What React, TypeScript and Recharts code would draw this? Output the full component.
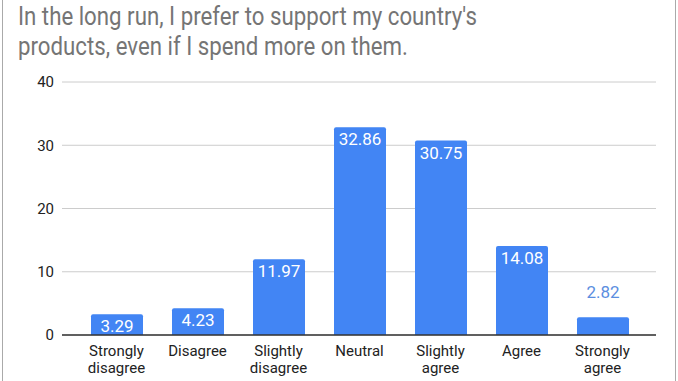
import React from 'react'
import { BarChart, Bar, XAxis, YAxis, CartesianGrid, LabelList } from 'recharts'

const categories = [
  'Strongly disagree',
  'Disagree',
  'Slightly disagree',
  'Neutral',
  'Slightly agree',
  'Agree',
  'Strongly agree',
]
const values = [3.29, 4.23, 11.97, 32.86, 30.75, 14.08, 2.82]
const yTicks = [0, 10, 20, 30, 40]

const data = categories.map((name, i) => ({ name, value: values[i] }))

const FONT = 'Roboto, Arial, sans-serif'

function CategoryTick(props: any) {
  const { x, y, payload } = props
  const words: string[] = payload.value.split(' ')
  return (
    <text x={x} y={y} textAnchor="middle" fontFamily={FONT} fontSize={15} fill="#222">
      {words.map((w, i) => (
        <tspan key={i} x={x} dy={i === 0 ? 13 : 17}>
          {w}
        </tspan>
      ))}
    </text>
  )
}

function ValueLabel(props: any) {
  const { x, y, width, height, value } = props
  const cx = x + width / 2
  if (height < 19) {
    return (
      <text x={cx} y={y - 25} dy={6} textAnchor="middle" fontFamily={FONT} fontSize={17} fill="#5b8ee0">
        {value}
      </text>
    )
  }
  return (
    <text x={cx} y={y + 12} dy={6} textAnchor="middle" fontFamily={FONT} fontSize={17} fill="#fff">
      {value}
    </text>
  )
}

export default function App() {
  return (
    <div
      style={{
        position: 'fixed',
        left: 0,
        top: 0,
        width: 678,
        height: 381,
        background: '#fff',
        fontFamily: FONT,
      }}
    >
      <div style={{ position: 'absolute', left: 2, top: 0, width: 1, height: 381, background: '#aaa' }} />
      <div style={{ position: 'absolute', left: 675, top: 0, width: 1, height: 381, background: '#aaa' }} />
      <div
        style={{
          position: 'absolute',
          left: 18,
          top: 2,
          fontSize: 25,
          lineHeight: '30px',
          color: '#757575',
          whiteSpace: 'nowrap',
          transform: 'scaleX(0.89)',
          transformOrigin: 'left top',
        }}
      >
        In the long run, I prefer to support my country's
        <br />
        products, even if I spend more on them.
      </div>
      <BarChart
        width={678}
        height={381}
        data={data}
        margin={{ top: 82, right: 22, bottom: 0, left: 22 }}
        style={{ position: 'absolute', left: 0, top: 0 }}
      >
        <CartesianGrid vertical={false} stroke="#ccc" />
        <XAxis
          dataKey="name"
          interval={0}
          tick={<CategoryTick />}
          tickLine={false}
          axisLine={{ stroke: '#333', strokeWidth: 1.5 }}
          padding={{ left: 14, right: 13 }}
          height={46}
        />
        <YAxis
          width={40}
          domain={[0, 40]}
          ticks={yTicks}
          tickLine={false}
          axisLine={false}
          tick={{ fontFamily: FONT, fontSize: 15, fill: '#222' }}
        />
        <Bar dataKey="value" fill="#4285F4" barSize={52} radius={[2, 2, 0, 0]} isAnimationActive={false}>
          <LabelList dataKey="value" content={<ValueLabel />} />
        </Bar>
      </BarChart>
    </div>
  )
}
